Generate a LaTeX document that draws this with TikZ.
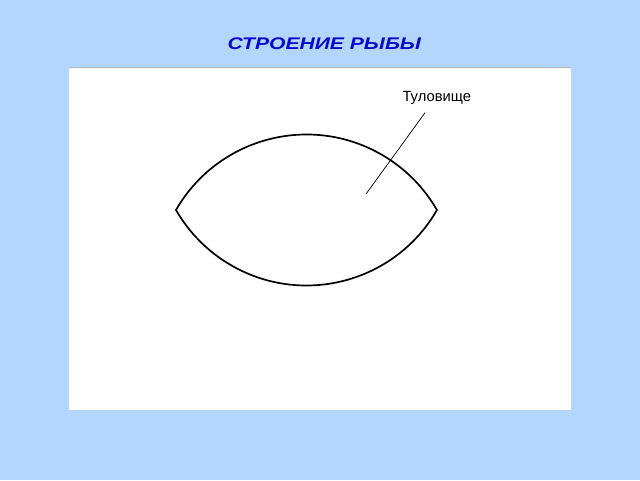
\documentclass[tikz,border=0pt]{standalone}
\usepackage{fontspec}
\setmainfont{Liberation Sans}
\definecolor{slidebg}{RGB}{179,214,255}
\definecolor{titleblue}{RGB}{10,10,204}
\begin{document}
\begin{tikzpicture}[draw=black,line width=1.2pt]
		\fill[slidebg] (0,0) rectangle (16,12);
		\useasboundingbox (0,0) rectangle (16,12);
		\fill[white] (1.725,1.75) rectangle (14.275,10.325);
		\draw[gray!60,line width=0.6pt] (1.725,10.325) -- (14.275,10.325);
		\node[titleblue,font=\fontsize{12}{14}\selectfont\bfseries\itshape,xscale=1.25,transform shape] (title) at (8.11,10.91) {СТРОЕНИЕ РЫБЫ};
		% body: two arcs
		\draw (4.4,6.75)
			arc[start angle=150.1, end angle=29.9, radius=3.7625]
			arc[start angle=-29.9, end angle=-150.1, radius=3.7625]
			-- cycle;
		\node[font=\fontsize{10.5}{12}\selectfont] (tul) at (10.92,9.56) {Туловище};
		\coordinate (tip) at (9.15,7.15);
		\draw[line width=0.5pt] ([xshift=-8.3pt,yshift=-2pt]tul.south) -- (tip);
	\end{tikzpicture}
\end{document}
